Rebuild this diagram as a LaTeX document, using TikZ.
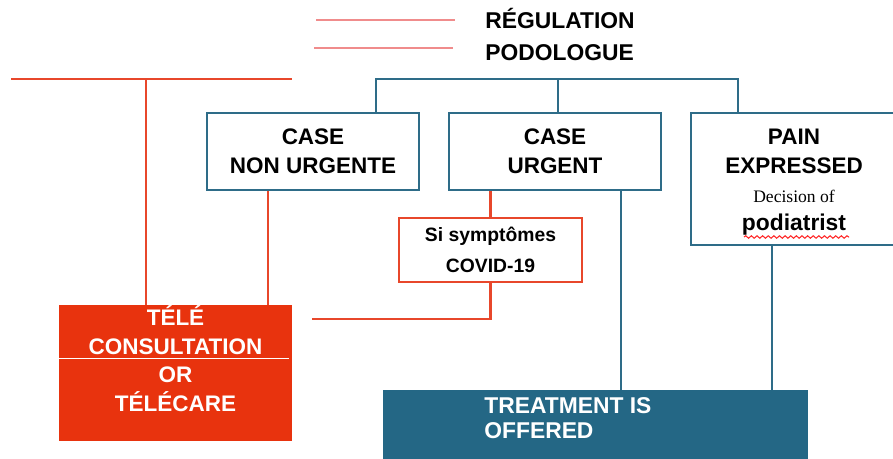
\documentclass[tikz,border=0pt]{standalone}
\usepackage{fontspec}
\setmainfont{Liberation Sans}
\newfontfamily\seriffont{Liberation Serif}
\usepackage{xcolor}
\usetikzlibrary{positioning,decorations.pathmorphing}
\definecolor{pbleu}{HTML}{2E6C88}
\definecolor{pfond}{HTML}{246785}
\definecolor{prouge}{HTML}{E8472B}
\definecolor{pfill}{HTML}{E8330E}
\definecolor{prose}{HTML}{F08C8C}

\begin{document}
\begin{tikzpicture}[x=0.02cm,y=-0.02cm,
  bluebox/.style={draw=pbleu,line width=1.2pt,fill=white,align=center,inner sep=0pt,
    font=\bfseries\fontsize{12.8}{16.5}\selectfont},
  redbox/.style={draw=prouge,line width=1.2pt,fill=white,align=center,inner sep=0pt,
    font=\bfseries\fontsize{11}{17.5}\selectfont},
  bigtext/.style={align=center,inner sep=0pt,text=white,
    font=\bfseries\fontsize{12.8}{16.5}\selectfont},
  bline/.style={draw=pbleu,line width=1.2pt},
  rline/.style={draw=prouge,line width=1.2pt},
  pline/.style={draw=prose,line width=0.9pt}]
\useasboundingbox (0,0) rectangle (893,459);
%%%%%%%%%%%%%%%% header
\coordinate (pa) at (316,20);
\coordinate (pb) at (455,20);
\coordinate (pc) at (314,48);
\coordinate (pd) at (453,48);
\draw[pline] (pa) -- (pb);
\draw[pline] (pc) -- (pd);
\node[anchor=west,inner sep=0pt,font=\bfseries\fontsize{13}{15}\selectfont] (reg) at (485,18.5) {RÉGULATION};
\node[anchor=west,inner sep=0pt,font=\bfseries\fontsize{13}{15}\selectfont] (podo) at (485,53) {PODOLOGUE};
%%%%%%%%%%%%%%%% boxes
\node[bluebox,minimum width=4.24cm,minimum height=1.54cm] (nonurg) at (313,151.5) {CASE\\NON URGENTE};
\node[bluebox,minimum width=4.24cm,minimum height=1.54cm] (urg) at (555,151.5) {CASE\\URGENT};
\node[bluebox,minimum width=4.12cm,minimum height=2.64cm] (pain) at (794,179) {};
\node[align=center,inner sep=0pt,font=\bfseries\fontsize{12.8}{16.5}\selectfont] (paintxt) at (794,182.5)
{PAIN\\EXPRESSED\\[0pt]{\seriffont\mdseries\fontsize{10}{12}\selectfont Decision of}\\[-0.5pt]{\fontsize{13}{15}\selectfont podiatrist}};
\node[redbox,minimum width=3.66cm,minimum height=1.28cm] (si) at (490.5,250) {Si symptômes\\COVID-19};
%%%%%%%%%%%%%%%% filled boxes
\node[fill=pfill,minimum width=4.66cm,minimum height=2.72cm,inner sep=0pt] (tele) at (175.5,373) {};
\coordinate (telemid) at (175.5,358.5);
\draw[white,line width=0.7pt] (tele.west |- telemid) -- ([xshift=-2pt]tele.east |- telemid);
\node[bigtext] (teletop) at (175.5,330) {TÉLÉ\\CONSULTATION};
\node[bigtext] (telebot) at (175.5,389) {OR\\TÉLÉCARE};
\node[fill=pfond,minimum width=8.5cm,minimum height=1.6cm,inner sep=0pt] (treat) at (595.5,430) {};
\node[bigtext,anchor=west,align=left,font=\bfseries\fontsize{13}{14.2}\selectfont] (treattxt) at (484,418) {TREATMENT IS\\OFFERED};
%%%%%%%%%%%%%%%% squiggle
\coordinate (sqa) at (744,237);
\coordinate (sqb) at (849,237);
\draw[red!85,line width=0.6pt,decorate,decoration={snake,amplitude=0.7pt,segment length=3.2pt}] (sqa) -- (sqb);
%%%%%%%%%%%%%%%% red connectors
\coordinate (redL) at (11,79);
\coordinate (redR) at (292,79);
\coordinate (redM) at (146,79);
\draw[rline] (redL) -- (redR);
\draw[rline] (redM) -- (redM |- tele.north);
\coordinate (nux) at (268,0);
\draw[rline] (nux |- nonurg.south) -- (nux |- tele.north);
\draw[rline] (urg.south -| si.north) -- (si.north);
\coordinate (covend) at (312,319);
\draw[rline] (si.south) -- (si.south |- covend) -- (covend);
%%%%%%%%%%%%%%%% blue connectors
\coordinate (bL) at (376,79);
\coordinate (bR) at (738,79);
\coordinate (bM) at (558,79);
\draw[bline] (bL |- nonurg.north) -- (bL) -- (bR) -- (bR |- pain.north);
\draw[bline] (bM) -- (bM |- urg.north);
\coordinate (ux) at (621,0);
\draw[bline] (ux |- urg.south) -- (ux |- treat.north);
\coordinate (px) at (772,0);
\draw[bline] (px |- pain.south) -- (px |- treat.north);
\end{tikzpicture}
\end{document}
